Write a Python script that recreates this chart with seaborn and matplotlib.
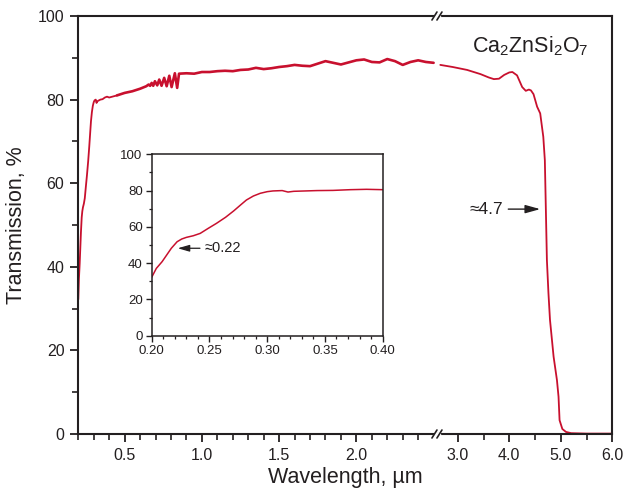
import numpy as np
import pandas as pd
import matplotlib
matplotlib.use("Agg")
import matplotlib.pyplot as plt
import seaborn as sns
from matplotlib.ticker import FixedLocator, FixedFormatter, NullFormatter
from matplotlib.lines import Line2D

# ---------------- data ----------------
# absorption edge region (also shown in inset)
edge_wl = [0.200, 0.204, 0.209, 0.213, 0.217, 0.222, 0.226, 0.230, 0.236, 0.242,
           0.249, 0.256, 0.264, 0.271, 0.277, 0.282, 0.288, 0.294, 0.300, 0.305,
           0.313, 0.318, 0.323, 0.343, 0.357, 0.372, 0.386, 0.400]
edge_tr = [32.2, 37.1, 40.8, 44.5, 48.2, 51.8, 53.3, 54.2, 55.1, 56.4,
           59.2, 61.9, 65.3, 68.8, 72.1, 74.8, 77.0, 78.5, 79.4, 79.8,
           80.0, 79.2, 79.6, 80.0, 80.1, 80.5, 80.7, 80.5]

# visible / near-IR part of left segment
vis_wl = [0.45, 0.50, 0.55, 0.60, 0.64, 0.655, 0.665, 0.675, 0.685, 0.696,
          0.711, 0.724, 0.739, 0.756, 0.772, 0.789, 0.804, 0.825, 0.840, 0.852,
          0.90, 0.95, 1.00, 1.05, 1.10, 1.15, 1.20, 1.25, 1.30, 1.35,
          1.40, 1.45, 1.50, 1.55, 1.60, 1.65, 1.70, 1.75, 1.80, 1.85,
          1.90, 1.95, 2.00, 2.05, 2.10, 2.15, 2.20, 2.25, 2.30, 2.35,
          2.40, 2.45, 2.50]
vis_tr = [81.0, 81.6, 82.0, 82.6, 83.2, 83.6, 83.3, 84.0, 83.3, 84.4,
          83.4, 84.8, 83.3, 85.2, 83.2, 85.7, 83.0, 86.3, 82.8, 86.2,
          86.3, 86.2, 86.6, 86.6, 86.8, 86.9, 86.8, 87.1, 87.2, 87.6,
          87.3, 87.5, 87.8, 88.0, 88.3, 88.1, 88.0, 88.6, 89.2, 88.8,
          88.4, 88.9, 89.4, 89.6, 89.0, 88.9, 89.7, 89.2, 88.3, 89.0,
          89.4, 89.0, 88.8]

# mid-IR segment (after axis break)
ir_wl = [2.66, 2.90, 3.18, 3.44, 3.60, 3.70, 3.80, 3.90, 4.00, 4.06,
         4.15, 4.25, 4.32, 4.38, 4.42, 4.47, 4.54, 4.60, 4.66, 4.69,
         4.71, 4.73, 4.76, 4.79, 4.86, 4.925, 4.956, 4.976, 5.03, 5.10,
         5.20, 5.50, 6.00]
ir_tr = [88.3, 87.8, 87.1, 86.1, 85.3, 84.9, 85.0, 85.9, 86.5, 86.6,
         85.8, 83.0, 82.1, 82.4, 82.2, 81.3, 78.3, 76.7, 71.1, 65.5,
         53.6, 41.6, 33.7, 27.3, 18.5, 12.9, 8.9, 3.3, 1.2, 0.5,
         0.2, 0.1, 0.1]

major_left = [0.5, 1.0, 1.5, 2.0]
major_right = [3.0, 4.0, 5.0, 6.0]
minor_left = [0.2, 0.3, 0.4, 0.6, 0.7, 0.8, 0.9, 1.1, 1.2, 1.3, 1.4, 1.6, 1.7,
              1.8, 1.9, 2.1, 2.2, 2.3, 2.4]
minor_right = [3.5, 4.5, 5.5]

inset_xticks = [0.20, 0.25, 0.30, 0.35, 0.40]
inset_xlabels = ["0.20", "0.25", "0.30", "0.35", "0.40"]

# ---------------- style ----------------
sns.set_style("ticks")
plt.rcParams["font.family"] = ["Liberation Sans", "DejaVu Sans"]
plt.rcParams["mathtext.fontset"] = "custom"
plt.rcParams["mathtext.rm"] = "Liberation Sans"
TXT = "#231f20"
RED = "#c8102e"

# broken-axis scale: left part 3x wider per micron than right part
K = np.array([-10.0, 0.2, 2.52, 2.60, 6.0, 20.0])
V = np.array([3 * (-10.2), 0.0, 6.96, 6.97, 10.37, 24.37])


def fwd(x):
    return np.interp(x, K, V)


def inv(y):
    return np.interp(y, V, K)


fig = plt.figure(figsize=(6.24, 4.96), dpi=100)
ax = fig.add_axes([0.12548, 0.125, 0.85577, 0.84274])

df_left = pd.DataFrame({"wl": edge_wl + vis_wl, "tr": edge_tr + vis_tr})
df_right = pd.DataFrame({"wl": ir_wl, "tr": ir_tr})

ax.set_xscale("function", functions=(fwd, inv))
sns.lineplot(data=df_left.iloc[:len(edge_wl) + 1], x="wl", y="tr", ax=ax,
             color=RED, lw=1.3, sort=False, estimator=None)
sns.lineplot(data=df_left.iloc[len(edge_wl):], x="wl", y="tr", ax=ax,
             color=RED, lw=1.9, sort=False, estimator=None)
sns.lineplot(data=df_right, x="wl", y="tr", ax=ax,
             color=RED, lw=1.3, sort=False, estimator=None)

ax.set_xlim(0.2, 6.0)
ax.set_ylim(0, 100)
ax.xaxis.set_major_locator(FixedLocator(major_left + major_right))
ax.xaxis.set_major_formatter(FixedFormatter([f"{v:.1f}" for v in major_left + major_right]))
ax.xaxis.set_minor_locator(FixedLocator(minor_left + minor_right))
ax.xaxis.set_minor_formatter(NullFormatter())
ax.yaxis.set_major_locator(FixedLocator([0, 20, 40, 60, 80, 100]))
ax.yaxis.set_minor_locator(FixedLocator([10, 30, 50, 70, 90]))

for s in ax.spines.values():
    s.set_linewidth(1.5)
    s.set_color(TXT)
ax.tick_params(which="major", direction="out", length=6, width=1.3,
               labelsize=11.5, colors=TXT, pad=4)
ax.tick_params(which="minor", direction="out", length=4, width=1.2, colors=TXT)
ax.set_xlabel("Wavelength, µm", fontsize=15.5, color=TXT, labelpad=3)
ax.set_ylabel("Transmission, %", fontsize=15.5, color=TXT, labelpad=8)

ax.text(0.955, 0.955, r"$\mathregular{Ca_2ZnSi_2O_7}$", transform=ax.transAxes,
        ha="right", va="top", fontsize=15.5, color=TXT)

# ≈4.7 annotation: arrow and text separately
ax.annotate("", xy=(4.60, 53.8), xytext=(3.98, 53.8),
            arrowprops=dict(arrowstyle="-|>,head_length=0.9,head_width=0.25",
                            color=TXT, lw=1.0, shrinkA=0, shrinkB=0))
ax.text(3.885, 53.8, "≈4.7", ha="right", va="center", fontsize=12.5, color=TXT)

# axis-break marks
fig.canvas.draw()
bx = ax.transData.transform((2.56, 50))[0]
for ypix in (ax.transAxes.transform((0, 0))[1], ax.transAxes.transform((0, 1))[1]):
    fig.add_artist(Line2D([(bx - 2) / 624, (bx + 2) / 624], [ypix / 496, ypix / 496],
                          color="white", lw=2.5, transform=fig.transFigure, zorder=10))
    for d in (-2.5, 2.5):
        fig.add_artist(Line2D([(bx + d - 2.5) / 624, (bx + d + 2.5) / 624],
                              [(ypix - 4) / 496, (ypix + 4) / 496],
                              color=TXT, lw=1.2, transform=fig.transFigure, zorder=11))

# ---------------- inset ----------------
axi = fig.add_axes([0.2431, 0.3232, 0.3702, 0.3657])
df_in = pd.DataFrame({"wl": edge_wl, "tr": edge_tr})
sns.lineplot(data=df_in, x="wl", y="tr", ax=axi, color=RED, lw=1.1,
             sort=False, estimator=None)
axi.set_xlim(0.2, 0.4)
axi.set_ylim(0, 100)
axi.xaxis.set_major_locator(FixedLocator(inset_xticks))
axi.xaxis.set_major_formatter(FixedFormatter(inset_xlabels))
axi.xaxis.set_minor_locator(FixedLocator(list(np.round(np.arange(0.21, 0.40, 0.01), 2))))
axi.yaxis.set_major_locator(FixedLocator([0, 20, 40, 60, 80, 100]))
axi.yaxis.set_minor_locator(FixedLocator([10, 30, 50, 70, 90]))
axi.set_xlabel("")
axi.set_ylabel("")
for s in axi.spines.values():
    s.set_linewidth(1.1)
    s.set_color(TXT)
axi.tick_params(which="major", direction="out", length=4, width=1.0,
                labelsize=9.5, colors=TXT, pad=2.5)
axi.tick_params(which="minor", direction="out", length=2.5, width=0.9, colors=TXT)
axi.annotate("", xy=(0.2225, 48.2), xytext=(0.2418, 48.2),
             arrowprops=dict(arrowstyle="-|>,head_length=0.7,head_width=0.2",
                             color=TXT, lw=0.9, shrinkA=0, shrinkB=0))
axi.text(0.2462, 48.2, "≈0.22", ha="left", va="center", fontsize=10.5, color=TXT)

fig.savefig("out.png", dpi=100)
